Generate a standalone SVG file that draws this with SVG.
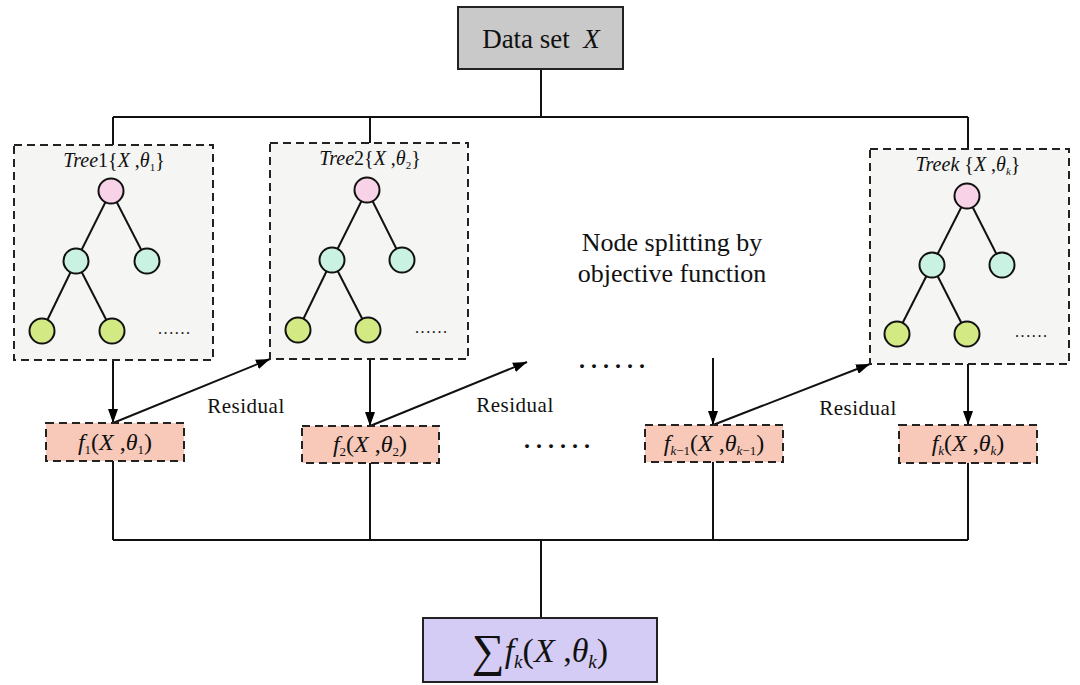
<svg xmlns="http://www.w3.org/2000/svg" width="1080" height="685" viewBox="0 0 1080 685">
<defs>
<marker id="ah" viewBox="0 0 14 10" refX="14" refY="5" markerWidth="14" markerHeight="10" markerUnits="userSpaceOnUse" orient="auto">
<path d="M0,0 L14,5 L0,10 z" fill="#000"/>
</marker>
<style>
.ln{stroke:#111;stroke-width:2;fill:none}
.ar{stroke:#111;stroke-width:2;fill:none;marker-end:url(#ah)}
.tb{fill:#f5f5f4;stroke:#222;stroke-width:2;stroke-dasharray:8,5}
.fb{fill:#f8c9b9;stroke:#222;stroke-width:2;stroke-dasharray:8,5}
.t{font-family:"Liberation Serif","Times New Roman",serif;fill:#111}
.i{font-style:italic}
.e{stroke:#111;stroke-width:2}
.r{fill:#f8d2e6;stroke:#111;stroke-width:2}
.m{fill:#c9f2e2;stroke:#111;stroke-width:2}
.g{fill:#d3ea84;stroke:#111;stroke-width:2}
.dots{font-family:"Liberation Serif",serif;font-weight:bold;font-size:24px;letter-spacing:6px;fill:#111}
.sd{font-family:"Liberation Serif",serif;font-size:16px;letter-spacing:1.6px;fill:#111}
</style>
</defs>
<rect width="1080" height="685" fill="#ffffff"/>

<g id="connectors">
<line class="ln" x1="541" y1="69" x2="541" y2="117"/>
<line class="ln" x1="113" y1="117" x2="968" y2="117"/>
<line class="ln" x1="113" y1="117" x2="113" y2="145"/>
<line class="ln" x1="370" y1="117" x2="370" y2="143"/>
<line class="ln" x1="968" y1="117" x2="968" y2="149"/>
<line class="ar" x1="113" y1="360" x2="113" y2="423"/>
<line class="ar" x1="370" y1="359" x2="370" y2="426"/>
<line class="ar" x1="713" y1="358" x2="713" y2="425"/>
<line class="ar" x1="968" y1="364" x2="968" y2="425"/>
<line class="ar" x1="113" y1="423" x2="270" y2="359"/>
<line class="ar" x1="370" y1="426" x2="527" y2="362"/>
<line class="ar" x1="713" y1="425" x2="870" y2="364"/>
<line class="ln" x1="113" y1="461" x2="113" y2="540"/>
<line class="ln" x1="370" y1="463" x2="370" y2="540"/>
<line class="ln" x1="713" y1="462" x2="713" y2="540"/>
<line class="ln" x1="968" y1="463" x2="968" y2="540"/>
<line class="ln" x1="113" y1="540" x2="968" y2="540"/>
<line class="ln" x1="541" y1="540" x2="541" y2="618"/>
<text class="t" x="246" y="413" font-size="21" text-anchor="middle" letter-spacing="0.5">Residual</text>
<text class="t" x="515" y="412" font-size="21" text-anchor="middle" letter-spacing="0.5">Residual</text>
<text class="t" x="858" y="415" font-size="21" text-anchor="middle" letter-spacing="0.5">Residual</text>
</g>

<g id="dataset">
<rect x="458" y="7" width="165" height="62" fill="#c9c9c9" stroke="#222" stroke-width="2"/>
<text class="t" x="541" y="48" font-size="27" text-anchor="middle" xml:space="preserve">Data set  <tspan class="i">X</tspan></text>
</g>

<g id="tree1">
<rect class="tb" x="14" y="145" width="199" height="215"/>
<text class="t" x="114" y="167" font-size="20" text-anchor="middle"><tspan class="i">Tree</tspan>1{<tspan class="i">X</tspan> ,<tspan class="i">θ</tspan><tspan font-size="11" dy="4">1</tspan><tspan dy="-4">}</tspan></text>
<line class="e" x1="111" y1="191" x2="76" y2="261"/>
<line class="e" x1="111" y1="191" x2="147" y2="261"/>
<line class="e" x1="76" y1="261" x2="42" y2="331"/>
<line class="e" x1="76" y1="261" x2="112" y2="331"/>
<circle class="r" cx="111" cy="191" r="12.5"/>
<circle class="m" cx="76" cy="261" r="12.5"/>
<circle class="m" cx="147" cy="261" r="12.5"/>
<circle class="g" cx="42" cy="331" r="12.5"/>
<circle class="g" cx="112" cy="331" r="12.5"/>
<text class="sd" x="158" y="334">......</text>
</g>

<g id="tree2">
<rect class="tb" x="270" y="143" width="198" height="216"/>
<text class="t" x="370" y="165" font-size="20" text-anchor="middle"><tspan class="i">Tree</tspan>2{<tspan class="i">X</tspan> ,<tspan class="i">θ</tspan><tspan font-size="11" dy="4">2</tspan><tspan dy="-4">}</tspan></text>
<line class="e" x1="367" y1="190" x2="332" y2="260"/>
<line class="e" x1="367" y1="190" x2="402" y2="260"/>
<line class="e" x1="332" y1="260" x2="298" y2="330"/>
<line class="e" x1="332" y1="260" x2="368" y2="330"/>
<circle class="r" cx="367" cy="190" r="12.5"/>
<circle class="m" cx="332" cy="260" r="12.5"/>
<circle class="m" cx="402" cy="260" r="12.5"/>
<circle class="g" cx="298" cy="330" r="12.5"/>
<circle class="g" cx="368" cy="330" r="12.5"/>
<text class="sd" x="415" y="333">......</text>
</g>

<g id="treek">
<rect class="tb" x="870" y="149" width="199" height="215"/>
<text class="t" x="968" y="171" font-size="20" text-anchor="middle"><tspan class="i">Treek</tspan> {<tspan class="i">X</tspan> ,<tspan class="i">θ</tspan><tspan class="i" font-size="11" dy="4">k</tspan><tspan dy="-4">}</tspan></text>
<line class="e" x1="967" y1="196" x2="932" y2="265"/>
<line class="e" x1="967" y1="196" x2="1002" y2="265"/>
<line class="e" x1="932" y1="265" x2="897" y2="334"/>
<line class="e" x1="932" y1="265" x2="967" y2="334"/>
<circle class="r" cx="967" cy="196" r="12.5"/>
<circle class="m" cx="932" cy="265" r="12.5"/>
<circle class="m" cx="1002" cy="265" r="12.5"/>
<circle class="g" cx="897" cy="334" r="12.5"/>
<circle class="g" cx="967" cy="334" r="12.5"/>
<text class="sd" x="1015" y="337">......</text>
</g>

<g id="note">
<text class="t" x="672" y="251" font-size="26" text-anchor="middle">Node splitting by</text>
<text class="t" x="672" y="282" font-size="26" text-anchor="middle">objective function</text>
<text class="dots" x="579" y="368">......</text>
<text class="dots" x="524" y="448">......</text>
</g>

<g id="f1">
<rect class="fb" x="46" y="423" width="138" height="38"/>
<text class="t" x="115" y="450" font-size="24" text-anchor="middle"><tspan class="i">f</tspan><tspan font-size="13" dy="4">1</tspan><tspan dy="-4">(</tspan><tspan class="i">X</tspan> ,<tspan class="i">θ</tspan><tspan font-size="13" dy="4">1</tspan><tspan dy="-4">)</tspan></text>
</g>

<g id="f2">
<rect class="fb" x="302" y="426" width="137" height="37"/>
<text class="t" x="370" y="452" font-size="24" text-anchor="middle"><tspan class="i">f</tspan><tspan font-size="13" dy="4">2</tspan><tspan dy="-4">(</tspan><tspan class="i">X</tspan> ,<tspan class="i">θ</tspan><tspan font-size="13" dy="4">2</tspan><tspan dy="-4">)</tspan></text>
</g>

<g id="fk1">
<rect class="fb" x="645" y="425" width="138" height="37"/>
<text class="t" x="714" y="451" font-size="24" text-anchor="middle"><tspan class="i">f</tspan><tspan font-size="13" dy="4"><tspan class="i">k</tspan>−1</tspan><tspan dy="-4">(</tspan><tspan class="i">X</tspan> ,<tspan class="i">θ</tspan><tspan font-size="13" dy="4"><tspan class="i">k</tspan>−1</tspan><tspan dy="-4">)</tspan></text>
</g>

<g id="fk">
<rect class="fb" x="899" y="425" width="138" height="38"/>
<text class="t" x="968" y="451" font-size="24" text-anchor="middle"><tspan class="i">f</tspan><tspan class="i" font-size="13" dy="4">k</tspan><tspan dy="-4">(</tspan><tspan class="i">X</tspan> ,<tspan class="i">θ</tspan><tspan class="i" font-size="13" dy="4">k</tspan><tspan dy="-4">)</tspan></text>
</g>

<g id="sum">
<rect x="423" y="618" width="234" height="64" fill="#d4ccf4" stroke="#222" stroke-width="2"/>
<text class="t" x="540" y="662" font-size="34" text-anchor="middle"><tspan font-size="46" dy="4">∑</tspan><tspan class="i" dy="-4">f</tspan><tspan class="i" font-size="19" dy="6">k</tspan><tspan dy="-6">(</tspan><tspan class="i">X</tspan> ,<tspan class="i">θ</tspan><tspan class="i" font-size="19" dy="6">k</tspan><tspan dy="-6">)</tspan></text>
</g>
</svg>
